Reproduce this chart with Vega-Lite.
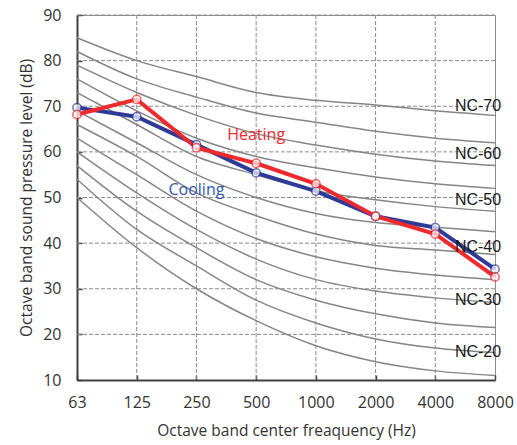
{
  "$schema": "https://vega.github.io/schema/vega-lite/v6.json",
  "width": 418,
  "height": 365,
  "autosize": "none",
  "padding": {"left": 77, "top": 15, "right": 22, "bottom": 65},
  "background": "white",
  "config": {
    "view": {"stroke": "#8c8c8c", "strokeWidth": 1},
    "font": "Open Sans",
    "axis": {
      "grid": false,
      "domainColor": "#404040", "domainWidth": 2,
      "tickColor": "#404040", "tickSize": -5, "tickWidth": 1.5,
      "labelFontSize": 16, "labelColor": "#333333",
      "titleFontSize": 15.5, "titleFontWeight": "normal", "titleColor": "#333333"
    }
  },
  "datasets": {
    "hgrid": [{"db": 20}, {"db": 30}, {"db": 40}, {"db": 50}, {"db": 60}, {"db": 70}, {"db": 80}, {"db": 90}],
    "vgrid": [{"freq": 125}, {"freq": 250}, {"freq": 500}, {"freq": 1000}, {"freq": 2000}, {"freq": 4000}],
    "nc": [
      {"nc": "NC-15", "freq": 63, "db": 50}, {"nc": "NC-15", "freq": 125, "db": 39}, {"nc": "NC-15", "freq": 250, "db": 30}, {"nc": "NC-15", "freq": 500, "db": 23}, {"nc": "NC-15", "freq": 1000, "db": 17.5}, {"nc": "NC-15", "freq": 2000, "db": 14}, {"nc": "NC-15", "freq": 4000, "db": 12}, {"nc": "NC-15", "freq": 8000, "db": 11},
      {"nc": "NC-20", "freq": 63, "db": 54}, {"nc": "NC-20", "freq": 125, "db": 43}, {"nc": "NC-20", "freq": 250, "db": 35}, {"nc": "NC-20", "freq": 500, "db": 27.5}, {"nc": "NC-20", "freq": 1000, "db": 22.5}, {"nc": "NC-20", "freq": 2000, "db": 19}, {"nc": "NC-20", "freq": 4000, "db": 17}, {"nc": "NC-20", "freq": 8000, "db": 16},
      {"nc": "NC-25", "freq": 63, "db": 57}, {"nc": "NC-25", "freq": 125, "db": 47}, {"nc": "NC-25", "freq": 250, "db": 39}, {"nc": "NC-25", "freq": 500, "db": 32}, {"nc": "NC-25", "freq": 1000, "db": 27.5}, {"nc": "NC-25", "freq": 2000, "db": 24.5}, {"nc": "NC-25", "freq": 4000, "db": 22.5}, {"nc": "NC-25", "freq": 8000, "db": 21.5},
      {"nc": "NC-30", "freq": 63, "db": 60}, {"nc": "NC-30", "freq": 125, "db": 51}, {"nc": "NC-30", "freq": 250, "db": 43}, {"nc": "NC-30", "freq": 500, "db": 36.5}, {"nc": "NC-30", "freq": 1000, "db": 32}, {"nc": "NC-30", "freq": 2000, "db": 29.5}, {"nc": "NC-30", "freq": 4000, "db": 28}, {"nc": "NC-30", "freq": 8000, "db": 27},
      {"nc": "NC-35", "freq": 63, "db": 63}, {"nc": "NC-35", "freq": 125, "db": 55}, {"nc": "NC-35", "freq": 250, "db": 47}, {"nc": "NC-35", "freq": 500, "db": 41}, {"nc": "NC-35", "freq": 1000, "db": 37}, {"nc": "NC-35", "freq": 2000, "db": 34.5}, {"nc": "NC-35", "freq": 4000, "db": 33}, {"nc": "NC-35", "freq": 8000, "db": 32},
      {"nc": "NC-40", "freq": 63, "db": 66}, {"nc": "NC-40", "freq": 125, "db": 59}, {"nc": "NC-40", "freq": 250, "db": 51}, {"nc": "NC-40", "freq": 500, "db": 46}, {"nc": "NC-40", "freq": 1000, "db": 42}, {"nc": "NC-40", "freq": 2000, "db": 39.5}, {"nc": "NC-40", "freq": 4000, "db": 38.5}, {"nc": "NC-40", "freq": 8000, "db": 37.5},
      {"nc": "NC-45", "freq": 63, "db": 69}, {"nc": "NC-45", "freq": 125, "db": 62}, {"nc": "NC-45", "freq": 250, "db": 55}, {"nc": "NC-45", "freq": 500, "db": 50}, {"nc": "NC-45", "freq": 1000, "db": 46.5}, {"nc": "NC-45", "freq": 2000, "db": 44.5}, {"nc": "NC-45", "freq": 4000, "db": 43.5}, {"nc": "NC-45", "freq": 8000, "db": 42.5},
      {"nc": "NC-50", "freq": 63, "db": 73}, {"nc": "NC-50", "freq": 125, "db": 66}, {"nc": "NC-50", "freq": 250, "db": 59}, {"nc": "NC-50", "freq": 500, "db": 55}, {"nc": "NC-50", "freq": 1000, "db": 51.5}, {"nc": "NC-50", "freq": 2000, "db": 49.5}, {"nc": "NC-50", "freq": 4000, "db": 48}, {"nc": "NC-50", "freq": 8000, "db": 47},
      {"nc": "NC-55", "freq": 63, "db": 76}, {"nc": "NC-55", "freq": 125, "db": 69}, {"nc": "NC-55", "freq": 250, "db": 63}, {"nc": "NC-55", "freq": 500, "db": 59}, {"nc": "NC-55", "freq": 1000, "db": 56.5}, {"nc": "NC-55", "freq": 2000, "db": 54.5}, {"nc": "NC-55", "freq": 4000, "db": 53}, {"nc": "NC-55", "freq": 8000, "db": 52},
      {"nc": "NC-60", "freq": 63, "db": 79}, {"nc": "NC-60", "freq": 125, "db": 73}, {"nc": "NC-60", "freq": 250, "db": 68}, {"nc": "NC-60", "freq": 500, "db": 64}, {"nc": "NC-60", "freq": 1000, "db": 61.5}, {"nc": "NC-60", "freq": 2000, "db": 59.5}, {"nc": "NC-60", "freq": 4000, "db": 58}, {"nc": "NC-60", "freq": 8000, "db": 57},
      {"nc": "NC-65", "freq": 63, "db": 82}, {"nc": "NC-65", "freq": 125, "db": 76}, {"nc": "NC-65", "freq": 250, "db": 72}, {"nc": "NC-65", "freq": 500, "db": 68.5}, {"nc": "NC-65", "freq": 1000, "db": 66.5}, {"nc": "NC-65", "freq": 2000, "db": 64.5}, {"nc": "NC-65", "freq": 4000, "db": 63}, {"nc": "NC-65", "freq": 8000, "db": 62},
      {"nc": "NC-70", "freq": 63, "db": 85}, {"nc": "NC-70", "freq": 125, "db": 80}, {"nc": "NC-70", "freq": 250, "db": 76.5}, {"nc": "NC-70", "freq": 500, "db": 73}, {"nc": "NC-70", "freq": 1000, "db": 71.3}, {"nc": "NC-70", "freq": 2000, "db": 70.3}, {"nc": "NC-70", "freq": 4000, "db": 69}, {"nc": "NC-70", "freq": 8000, "db": 68}
    ],
    "meas": [
      {"series": "Cooling", "freq": 63, "db": 69.7}, {"series": "Cooling", "freq": 125, "db": 67.7}, {"series": "Cooling", "freq": 250, "db": 61.6}, {"series": "Cooling", "freq": 500, "db": 55.4}, {"series": "Cooling", "freq": 1000, "db": 51.4}, {"series": "Cooling", "freq": 2000, "db": 45.9}, {"series": "Cooling", "freq": 4000, "db": 43.4}, {"series": "Cooling", "freq": 8000, "db": 34.3},
      {"series": "Heating", "freq": 63, "db": 68.2}, {"series": "Heating", "freq": 125, "db": 71.5}, {"series": "Heating", "freq": 250, "db": 60.9}, {"series": "Heating", "freq": 500, "db": 57.5}, {"series": "Heating", "freq": 1000, "db": 53.0}, {"series": "Heating", "freq": 2000, "db": 45.9}, {"series": "Heating", "freq": 4000, "db": 42.0}, {"series": "Heating", "freq": 8000, "db": 32.6}
    ],
    "lbl": [
      {"text": "NC-70", "freq": 8000, "db": 70},
      {"text": "NC-60", "freq": 8000, "db": 59.5},
      {"text": "NC-50", "freq": 8000, "db": 49.5},
      {"text": "NC-40", "freq": 8000, "db": 39.2},
      {"text": "NC-30", "freq": 8000, "db": 27.5},
      {"text": "NC-20", "freq": 8000, "db": 16.2}
    ],
    "ann": [
      {"series": "Heating", "freq": 500, "db": 63.7},
      {"series": "Cooling", "freq": 250, "db": 51.6}
    ]
  },
  "layer": [
    {
      "data": {"name": "hgrid"},
      "mark": {"type": "rule", "color": "#8a8a8a", "strokeWidth": 1, "strokeDash": [4, 2]},
      "encoding": {
        "y": {
          "field": "db", "type": "quantitative",
          "scale": {"domain": [10, 90], "nice": false, "zero": false},
          "axis": {"title": "Octave band sound pressure level (dB)", "values": [10, 20, 30, 40, 50, 60, 70, 80, 90], "labelPadding": 21, "titlePadding": 8}
        }
      }
    },
    {
      "data": {"name": "vgrid"},
      "mark": {"type": "rule", "color": "#8a8a8a", "strokeWidth": 1, "strokeDash": [4, 2]},
      "encoding": {
        "x": {
          "field": "freq", "type": "ordinal",
          "scale": {"type": "point", "domain": [63, 125, 250, 500, 1000, 2000, 4000, 8000], "padding": 0},
          "axis": {"title": "Octave band center freaquency (Hz)", "labelAngle": 0, "labelPadding": 19, "titlePadding": 13}
        }
      }
    },
    {
      "encoding": {
        "x": {
          "field": "freq", "type": "ordinal",
          "scale": {"type": "point", "domain": [63, 125, 250, 500, 1000, 2000, 4000, 8000], "padding": 0},
          "axis": {"title": "Octave band center freaquency (Hz)", "labelAngle": 0, "labelPadding": 19, "titlePadding": 13}
        },
        "y": {
          "field": "db", "type": "quantitative",
          "scale": {"domain": [10, 90], "nice": false, "zero": false},
          "axis": {"title": "Octave band sound pressure level (dB)", "values": [10, 20, 30, 40, 50, 60, 70, 80, 90], "labelPadding": 21, "titlePadding": 8}
        }
      },
      "layer": [
        {
          "data": {"name": "nc"},
          "mark": {"type": "line", "interpolate": "catmull-rom", "color": "#858585", "strokeWidth": 1.5},
          "encoding": {"detail": {"field": "nc"}}
        },
        {
          "data": {"name": "meas"},
          "mark": {"type": "line", "strokeWidth": 4},
          "encoding": {
            "stroke": {"field": "series", "scale": {"domain": ["Cooling", "Heating"], "range": ["#2e3a96", "#ee2a2e"]}, "legend": null}
          }
        },
        {
          "data": {"name": "meas"},
          "mark": {"type": "point", "filled": true, "fill": "white", "size": 70, "strokeWidth": 1.5},
          "encoding": {
            "stroke": {"field": "series", "legend": null}
          }
        },
        {
          "data": {"name": "lbl"},
          "mark": {"type": "text", "font": "Liberation Sans", "fontSize": 16, "fill": "#1a1a1a", "dx": -17, "align": "center", "baseline": "middle"},
          "encoding": {"text": {"field": "text"}}
        },
        {
          "data": {"name": "ann"},
          "mark": {"type": "text", "fontSize": 16, "align": "center", "baseline": "middle"},
          "encoding": {
            "text": {"field": "series"},
            "fill": {"field": "series", "scale": {"domain": ["Cooling", "Heating"], "range": ["#2f56b0", "#ee2a2e"]}, "legend": null}
          }
        }
      ]
    }
  ]
}
